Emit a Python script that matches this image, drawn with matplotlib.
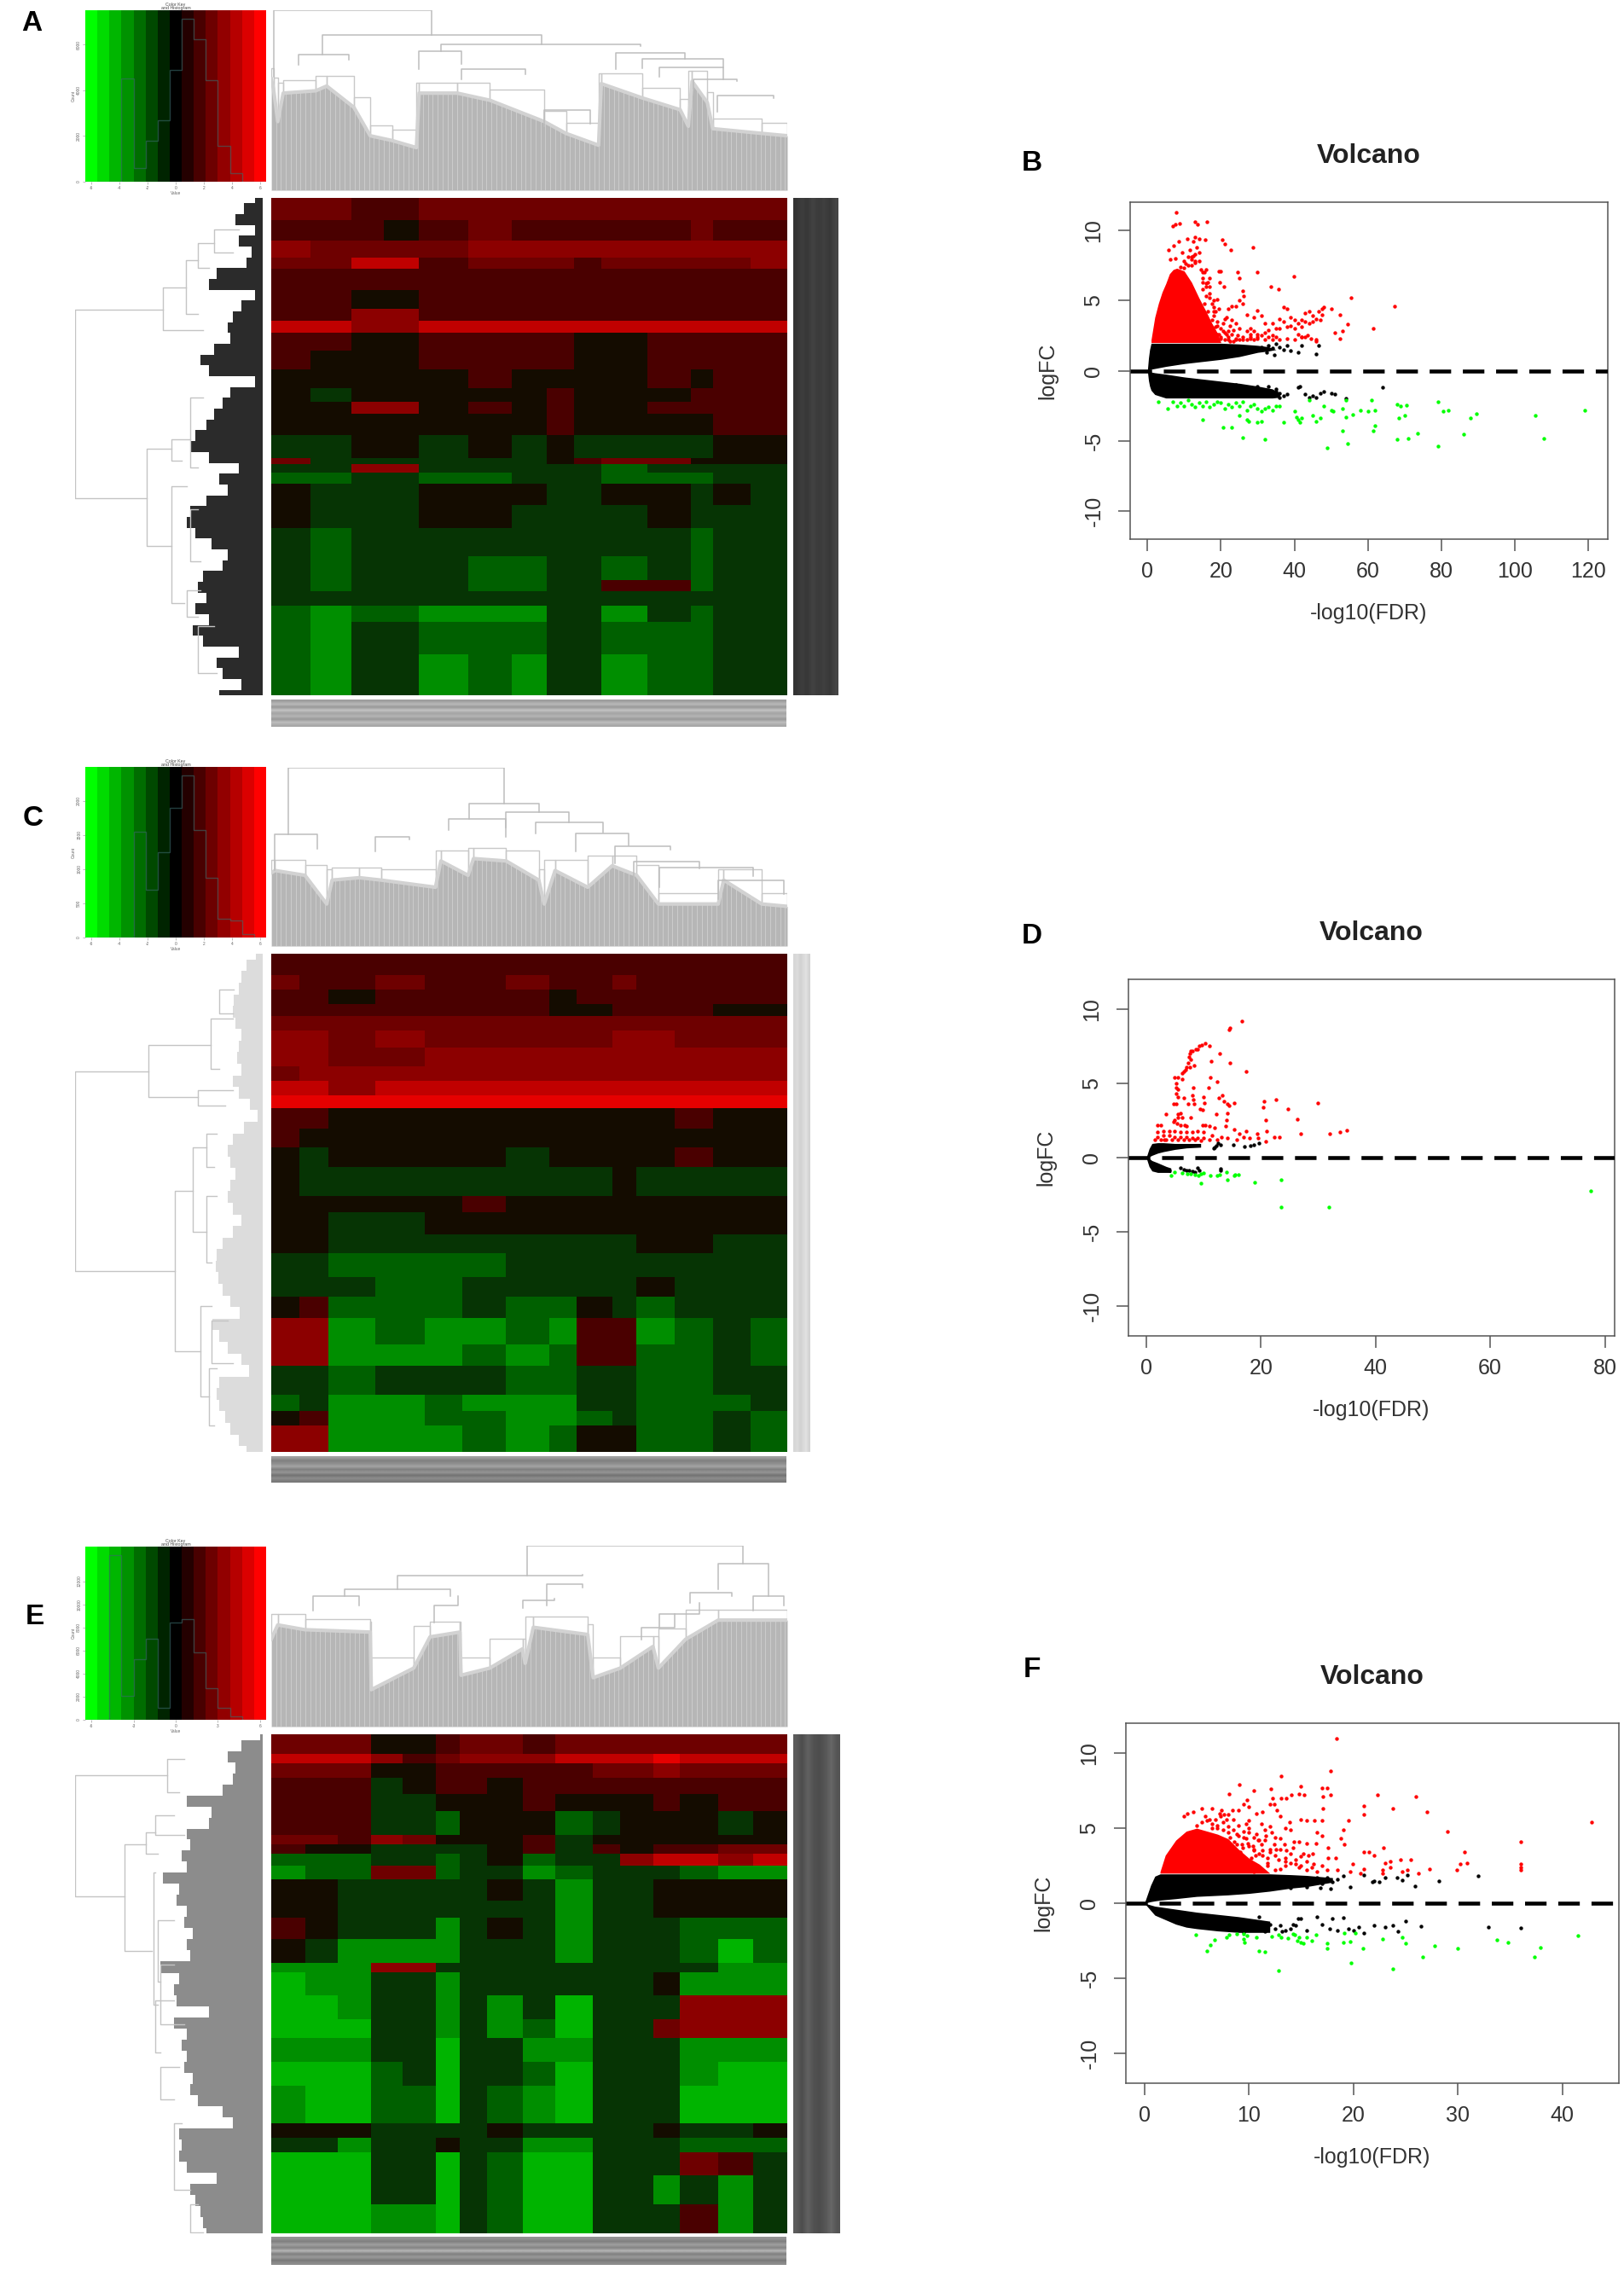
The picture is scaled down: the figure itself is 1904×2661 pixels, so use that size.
import numpy as np
import matplotlib
matplotlib.use("Agg")
import matplotlib.pyplot as plt
from matplotlib.colors import ListedColormap, LinearSegmentedColormap

plt.rcParams["font.family"] = ["Liberation Sans", "DejaVu Sans"]

W, H = 1904, 2661

# heat codes: 0 bright green ... 4 black ... 9 bright red
heat_colors = ["#00b400", "#008e00", "#006000", "#063404", "#140c00",
               "#4a0000", "#6e0000", "#8c0000", "#c00000", "#e60000"]
heat_cmap = ListedColormap(heat_colors)
key_cmap = LinearSegmentedColormap.from_list("key", ["#00ff00", "#000000", "#ff0000"], N=15)

# ---- panel A ----
a_cols = [498, 570, 645, 705, 770, 860, 940, 1005, 1055, 1105, 1190, 1270, 1310, 1380, 1447]
a_rows = [423, 470, 515, 550, 575, 620, 660, 685, 712, 750, 790, 830, 860, 885, 930, 980, 992,
          1010, 1035, 1080, 1130, 1190, 1240, 1265, 1295, 1330, 1400, 1487]
a_heat = ["66556666666666", "55545655555655", "76666777777777", "66885666566667",
          "55555555555555", "55445555555555", "55775555555555", "88778888888888",
          "55445555445555", "54445555445555", "44444544445455", "43444445444555",
          "44774545445555", "44444445444455", "33443434333344", "63333334566444",
          "33773333323333", "22332233322233", "43334443344343", "43334433334333",
          "32333333333233", "32333223323233", "32333223355233", "33333333333333",
          "21221113313233", "21332223322233", "21331213312233"]
a_hist = [0, 0, 0, .60, .08, .24, .36, .65, .95, .83, .59, .21, .05, 0, 0]
a_top_x = [498, 502, 510, 520, 580, 600, 650, 680, 720, 765, 770, 840, 900, 1000, 1040, 1100,
           1105, 1180, 1250, 1265, 1272, 1300, 1310, 1400, 1447]
a_top_y = [170, 190, 260, 200, 195, 185, 230, 290, 300, 315, 200, 200, 215, 260, 285, 310,
           180, 210, 235, 270, 175, 220, 275, 285, 290]
a_top_links = [(502, 793, 25, 165, 78), (592, 995, 78, 118, 97), (548, 640, 118, 140, 130),
               (810, 1177, 97, 112, 100), (770, 848, 112, 150, 138), (848, 965, 150, 170, 160),
               (1132, 1258, 115, 150, 127), (1180, 1330, 127, 148, 145), (1212, 1330, 145, 165, 170),
               (1275, 1355, 170, 190, 175), (1318, 1422, 205, 240, 210), (1000, 1085, 235, 270, 265)]
a_left_x = [470, 450, 435, 470, 440, 465, 455, 400, 385, 470, 445, 430, 420, 425, 395, 370, 385, 470, 425,
            410, 395, 380, 360, 350, 385, 440, 405, 420, 380, 350, 345, 360, 390, 420, 410, 375, 365, 380,
            360, 385, 355, 375, 440, 400, 410, 445, 405]
a_left_links = [(662, 1065, 137, 300, 270), (615, 705, 300, 343, 375), (557, 672, 343, 365, 365),
                (520, 572, 365, 395, 385), (490, 540, 395, 440, 430), (960, 1168, 270, 315, 315),
                (940, 985, 315, 350, 335), (850, 1000, 350, 375, 365), (1040, 1290, 315, 345, 340),
                (1262, 1320, 345, 370, 365), (1090, 1200, 350, 365, 370), (1340, 1440, 365, 395, 400)]

# ---- panel C ----
c_cols = [498, 550, 603, 690, 780, 850, 930, 1010, 1060, 1125, 1170, 1240, 1310, 1380, 1447]
c_rows = [425, 470, 500, 530, 555, 585, 620, 660, 690, 720, 748, 790, 830, 870, 930, 965, 1010,
          1050, 1100, 1140, 1185, 1240, 1285, 1345, 1380, 1410, 1465]
c_heat = ["55555555555555", "65565565565555", "55455554555555", "55555554455544",
          "66666666666666", "77676666677666", "77667777777777", "67777777777777",
          "88788888888888", "99999999999999", "55444444444544", "54444444444444",
          "43444434444544", "43333333343333", "44444544444444", "44334444444444",
          "44333333334433", "33222233333333", "33322333334333", "45222322432333",
          "77121121551232", "77111212552232", "33233322332233", "23112111332223",
          "45112211232232", "77111212442232"]
c_hist = [0, 0, 0, 0, .62, .28, .50, .76, .95, .63, .35, .11, .10, .02, 0]
c_top_x = [498, 505, 560, 600, 610, 660, 700, 800, 810, 860, 870, 930, 990, 1000, 1020, 1080,
           1125, 1170, 1210, 1320, 1330, 1400, 1447]
c_top_y = [255, 250, 260, 320, 270, 265, 270, 285, 230, 260, 225, 230, 270, 320, 250, 285,
           240, 260, 320, 320, 270, 320, 325]
c_top_links = [(530, 926, 35, 175, 110), (862, 990, 110, 142, 128), (824, 930, 142, 165, 160),
               (930, 1045, 128, 180, 150), (985, 1108, 150, 172, 170), (505, 582, 175, 250, 205),
               (690, 752, 180, 210, 185), (1058, 1155, 172, 210, 197), (1130, 1232, 200, 235, 207),
               (1165, 1285, 232, 265, 245), (1212, 1385, 243, 285, 262), (1320, 1440, 270, 310, 300)]
c_left_x = [472, 455, 445, 440, 432, 430, 435, 445, 440, 438, 445, 430, 440, 462, 475, 450, 430, 420,
            425, 435, 425, 420, 430, 445, 430, 410, 400, 398, 402, 410, 425, 442, 392, 405, 420, 445,
            460, 405, 400, 405, 415, 425, 440, 455]
c_left_links = [(670, 1087, 137, 273, 322), (615, 725, 273, 388, 365), (560, 665, 388, 430, 405),
                (710, 742, 365, 430, 415), (920, 1255, 322, 355, 370), (830, 1005, 355, 380, 380),
                (1160, 1350, 370, 390, 385), (800, 870, 380, 400, 395), (930, 1070, 380, 400, 390),
                (1290, 1410, 385, 400, 395), (1190, 1280, 390, 420, 430), (500, 550, 405, 432, 430)]

# ---- panel E ----
e_cols = [498, 560, 620, 682, 740, 800, 845, 895, 960, 1020, 1090, 1140, 1200, 1250, 1320, 1385, 1447]
e_rows = [438, 480, 500, 530, 565, 600, 650, 670, 690, 715, 745, 790, 825, 870, 920, 940, 990, 1040,
          1080, 1130, 1180, 1260, 1290, 1320, 1370, 1430, 1492]
e_heat = ["6664456656666666", "8887567778889888", "6664455555667666", "5553455455555555",
          "5553344454445455", "5553324442344434", "6657644453444444", "5443333453545566",
          "2223323423378878", "1226623312333211", "4433333431334444", "4433333331334444",
          "5433313431333222", "4311113331333202", "1117733333333311", "0113313333334111",
          "0013313130333777", "0003313120336777", "1113303311333111", "0002303320333100",
          "1002203210333000", "4443333433334334", "3313343311333222", "0003303200333653",
          "0003303200331313", "0001103200333513"]
e_hist = [0, 0, .95, .14, .35, .47, .07, .56, .58, .39, .18, .07, .02, 0, 0]
e_top_x = [498, 510, 560, 680, 682, 760, 790, 845, 847, 900, 960, 965, 980, 1080, 1090, 1140,
           1200, 1210, 1260, 1320, 1447]
e_top_y = [240, 210, 220, 225, 345, 300, 235, 225, 315, 300, 260, 290, 215, 230, 320, 300,
           255, 300, 240, 200, 200]
e_top_links = [(968, 1366, 45, 108, 83), (730, 1070, 108, 135, 105), (1320, 1412, 83, 135, 150),
               (633, 828, 135, 150, 150), (1268, 1345, 142, 165, 150), (1005, 1070, 125, 170, 132),
               (960, 1018, 158, 175, 155), (575, 660, 150, 180, 170), (798, 842, 170, 205, 150),
               (1178, 1240, 215, 240, 188), (1212, 1285, 188, 215, 165), (1385, 1440, 150, 180, 170)]
e_left_x = [480, 445, 420, 435, 430, 410, 345, 390, 385, 345, 350, 335, 345, 300, 330, 325, 345, 340, 355,
            345, 350, 295, 330, 320, 325, 385, 320, 345, 335, 345, 340, 355, 350, 365, 410, 430, 330, 335,
            330, 345, 400, 350, 360, 370, 375, 380]
e_left_links = [(525, 780, 137, 308, 228), (490, 560, 308, 340, 330), (670, 895, 228, 268, 280),
                (645, 690, 268, 285, 290), (730, 1010, 282, 285, 290), (830, 960, 290, 320, 295),
                (1000, 1110, 285, 320, 295), (1140, 1210, 295, 330, 320), (1260, 1400, 320, 335, 350),
                (610, 650, 285, 320, 340), (1430, 1490, 350, 365, 375), (925, 1050, 295, 320, 340)]

# label strip grey levels (blurred text blocks)
a_right = [.20, .24, .22, .26, .23, .25, .22, .27]
c_right = [.84, .86, .82, .85, .88, .83]
e_right = [.36, .30, .38, .32, .30, .34, .40, .33]
a_bottom = [.62, .72, .60, .76, .64, .70, .60, .74, .66]
c_bottom = [.62, .50, .56, .64, .50, .58, .45, .55, .48]
e_bottom = [.58, .50, .62, .52, .70, .50, .60, .48, .55]

# ---- volcano B ----
b_red_x = [7.9, 6.9, 7.6, 8.8, 12.9, 13.7, 16.3, 8.5, 7.2, 5.8, 7.5, 6.2, 10.9, 12.5, 13, 14, 15.8, 20.3, 21, 22.7,
           28.8, 30, 39.8, 20, 19.4, 24.6, 25, 19.6, 20.8, 33.5, 35.6, 26, 26.2, 55.5, 67.3, 52.3, 50, 48, 47.5, 54.5,
           61.5, 51, 52.5, 53, 46.5, 45, 44, 43, 42, 41, 40, 39, 38, 37, 36, 35, 34, 33, 32, 31, 30, 29, 28, 27,
           26, 25, 24, 23, 22, 21, 47, 46, 45, 44, 43, 42, 41, 40, 39, 38, 37, 36, 34, 33, 32, 31, 30, 29, 28, 27,
           25, 24, 23, 22, 21, 20, 47.5, 46, 44.5, 43.5, 42, 40, 38, 36, 35, 34, 32, 30, 28, 26, 24, 22, 20, 19, 18,
           43, 42, 46, 17, 18, 16, 17, 18, 19, 15, 16, 14, 15, 13, 14, 12, 11, 10, 13, 15, 17, 19, 12, 16, 18, 14,
           9, 10, 11, 12, 13, 11.5, 9.5, 10.5, 12.5, 13.5, 14.5, 15.5, 16.5, 17.5, 18.5, 19.5, 20.5, 21.5, 22.5, 23.5, 24.5,
           15, 16, 17, 18, 19, 20, 21, 22, 23, 24, 25, 26, 27, 28, 29, 30, 15.5, 16.5, 17.5, 18.5, 19.5, 20.5, 21.5, 22.5, 23.5]
b_red_y = [11.3, 10.3, 10.4, 10.5, 10.6, 10.4, 10.6, 9.2, 8.9, 8.6, 8.0, 7.9, 9.4, 9.2, 9.5, 9.4, 9.3, 9.3, 9.0, 8.6,
           8.8, 7.0, 6.7, 7.1, 7.1, 7.0, 6.6, 6.3, 6.0, 6.0, 5.8, 5.7, 5.3, 5.2, 4.6, 4.0, 4.4, 4.5, 4.0, 3.3,
           3.0, 2.7, 2.3, 2.8, 4.2, 3.9, 4.2, 4.1, 3.6, 3.4, 3.6, 3.8, 4.4, 4.5, 3.7, 3.0, 3.4, 2.9, 3.4, 3.9, 4.3, 3.8, 3.0, 4.0,
           4.8, 5.0, 4.6, 4.6, 4.4, 3.7, 3.6, 3.7, 3.5, 3.4, 3.5, 3.1, 2.6, 3.0, 3.2, 3.1, 3.5, 3.0, 2.5, 2.4, 2.7, 2.5, 2.6, 2.8, 2.3, 2.8,
           3.0, 3.4, 3.6, 2.8, 2.7, 3.0, 4.4, 2.2, 2.3, 2.5, 2.4, 2.2, 2.3, 2.2, 2.4, 2.2, 2.2, 2.3, 2.4, 2.2, 2.3, 2.2, 2.3, 2.6, 2.8,
           2.4, 2.4, 2.1, 6.0, 5.0, 7.2, 6.6, 4.5, 3.5, 6.3, 5.3, 7.8, 7.0, 8.3, 8.4, 7.9, 7.5, 7.3, 7.7, 5.8, 5.5, 5.1, 8.1, 6.0, 3.9, 4.6,
           7.4, 7.8, 8.1, 7.5, 7.8, 8.6, 8.4, 7.6, 8.2, 8.8, 7.2, 7.0, 6.3, 4.8, 4.2, 4.4, 3.4, 3.8, 3.2, 2.9, 2.5,
           6.6, 6.2, 5.2, 4.2, 3.2, 2.4, 2.2, 2.4, 2.6, 2.2, 2.2, 2.4, 2.2, 2.6, 2.2, 2.4, 4.8, 4.2, 3.6, 3.1, 2.6, 2.8, 2.6, 2.1, 2.1]
b_dense_x = [1, 2, 3, 4, 5, 6, 7, 8, 10, 12, 14, 16, 17.5, 19, 20]
b_dense_top = [2.2, 3.8, 4.8, 5.6, 6.2, 6.9, 7.2, 7.3, 7.1, 6.3, 5.2, 4.2, 3.4, 2.7, 2.0]
b_up_x = [0, .3, .6, 1, 5, 10, 15, 20, 25, 30, 33, 35]
b_up_hi = [0, .9, 1.5, 1.95, 1.95, 1.95, 1.95, 1.95, 1.9, 1.8, 1.7, 1.5]
b_up_lo = [0, .05, .08, .1, .3, .5, .65, .8, 1.0, 1.3, 1.4, 1.5]
b_lo_x = [0, .3, .6, 1, 2, 5, 10, 15, 20, 25, 30, 34, 36]
b_lo_hi = [0, -.05, -.08, -.1, -.15, -.25, -.45, -.6, -.75, -.9, -1.1, -1.3, -1.6]
b_lo_lo = [0, -.7, -1.1, -1.4, -1.7, -1.95, -1.95, -1.95, -1.95, -1.95, -1.95, -1.95, -1.9]
b_black_x = [31, 33, 34, 35, 36, 37, 38, 39, 41, 42, 46.5, 46, 35, 36, 32, 34, 37, 30, 28, 26, 24, 27, 29, 31, 33,
             35, 36, 38, 41, 41.5, 43, 44, 45, 46, 48, 51, 54, 64, 47, 50, 32.5, 34.5]
b_black_y = [1.7, 1.8, 1.6, 1.9, 1.7, 1.5, 1.8, 1.4, 1.3, 1.8, 1.8, 1.2, -1.3, -1.6, -1.5, -1.7, -1.8, -1.1, -1.6, -1.2, -1.0,
             -1.4, -1.5, -1.4, -1.1, -1.5, -1.9, -1.7, -1.2, -1.1, -1.7, -1.9, -1.8, -1.9, -1.5, -1.7, -2.0, -1.2, -1.6, -1.6, 1.3, 1.1]
b_green_x = [3, 5.5, 7, 8, 9, 10, 11, 12, 13, 14, 15, 16, 17, 18, 19, 20, 21, 22, 23, 24, 25, 26, 27, 28, 29, 30, 31, 32, 33, 34, 35,
             15, 20.5, 23, 26, 32, 25, 27, 27.5, 30, 31, 36, 37, 40, 40.5, 41, 41.5, 42, 44, 45, 46, 47, 48, 50, 50.5, 53, 54, 54.5, 54,
             53.2, 49, 56, 58, 60, 61, 62, 61.5, 62, 68, 69, 70, 70.5, 68.5, 68, 71, 73.5, 79, 79, 80.5, 82, 86, 88, 89.5, 105.5, 108, 119]
b_green_y = [-2.2, -2.7, -2.2, -2.5, -2.3, -2.5, -2.1, -2.4, -2.6, -2.3, -2.5, -2.2, -2.6, -2.4, -2.2, -2.3, -2.7, -2.4, -2.6, -2.3, -2.5, -2.2,
             -2.8, -2.5, -2.4, -2.7, -2.9, -2.7, -2.6, -2.8, -2.5, -3.5, -4.05, -4.05, -4.75, -4.9, -3.2, -3.5, -3.6, -3.65, -3.6, -2.5, -3.7,
             -2.9, -3.3, -3.5, -3.7, -3.4, -2.1, -3.2, -3.6, -3.4, -2.5, -2.8, -2.9, -4.3, -3.3, -5.2, -2.1, -2.7, -5.5, -3.1, -2.8, -2.9, -2.1, -2.85,
             -4.3, -3.9, -2.4, -2.5, -3.2, -2.45, -3.4, -4.9, -4.85, -4.45, -5.4, -2.2, -2.9, -2.85, -4.5, -3.35, -3.05, -3.2, -4.8, -2.8]

# ---- volcano D ----
d_red_x = [16.7, 14.6, 14.4, 9.7, 10.3, 11, 9.2, 9, 8.6, 8.1, 7.8, 7.6, 7.5, 7.8, 7.3, 7.6, 8.3, 7, 6.9, 6.6, 6.3, 11.4, 12.8, 14.6, 17.4,
           5, 5.5, 6.3, 11.2, 12.4, 5.3, 5.2, 5.5, 10.9, 8.2, 5.2, 5.6, 6.6, 8.1, 10, 12.6, 13.3, 8.2, 7.3, 4.8, 5.2, 8.4, 10.1, 13.5, 14.2, 15.4,
           14.5, 20.5, 22.7, 20.4, 29.9, 24.7, 9.4, 9.9, 6, 5.5, 3.5, 12.2, 14.1, 5.5, 6.2, 7.7, 26.3, 20.9, 14, 5, 4.8, 5.4, 6, 6.7, 7, 2, 2.6,
           9.8, 10.3, 11, 12, 13.8, 15.3, 17.5, 16.2, 19.4, 21, 26.9, 32, 33.8, 35, 22.3, 23.2, 19.5, 20.9, 18, 17, 15.8, 14.2, 13.1, 12.3, 11.1,
           10, 9, 8, 7, 6, 5, 4, 3, 2, 1.5, 2.5, 3.5, 4.5, 5.5, 6.5, 7.5, 8.5, 9.5, 2, 3, 4, 5, 6, 7, 8, 9, 10, 11.5, 3.2]
d_red_y = [9.2, 8.7, 8.6, 7.6, 7.7, 7.5, 7.5, 7.3, 7.3, 7.2, 7.2, 7, 6.8, 6.6, 6.4, 6.1, 6.2, 6.1, 5.9, 5.8, 5.7, 6.5, 7, 6.4, 5.8,
           5.4, 5.4, 5.3, 5.4, 5.1, 5, 4.7, 4.6, 4.7, 4.7, 4.3, 4.1, 4, 4.2, 4.1, 4, 4.2, 3.9, 3.6, 3.6, 3.6, 3.6, 3.7, 3.8, 3.6, 3.7,
           3.5, 3.8, 3.9, 3.4, 3.7, 3.3, 3.3, 3.2, 3, 2.9, 2.9, 2.9, 3, 2.7, 2.7, 2.7, 2.6, 2.5, 2.5, 2.5, 2.4, 2.3, 2.2, 2.2, 2.1, 2.2, 2.2,
           2.2, 2.2, 2.1, 2, 2.1, 1.9, 1.8, 1.6, 1.6, 1.8, 1.6, 1.6, 1.75, 1.85, 1.4, 1.4, 1.3, 1.1, 1.3, 1.35, 1.2, 1.3, 1.4, 1.2, 1.2,
           1.3, 1.3, 1.3, 1.4, 1.4, 1.4, 1.5, 1.5, 1.4, 1.2, 1.2, 1.2, 1.2, 1.2, 1.2, 1.2, 1.2, 1.15, 1.7, 1.8, 1.8, 1.8, 1.7, 1.7, 1.7, 1.8, 1.7, 1.5, 1.2]
d_up_x = [0, .5, 1, 2, 3, 5, 7, 9.5]
d_up_hi = [0, .6, .95, 1, 1, .95, .95, .95]
d_up_lo = [0, .05, .15, .3, .4, .55, .65, .7]
d_lo_x = [0, .5, 1, 2, 3.5, 4.3]
d_lo_hi = [0, -.05, -.2, -.35, -.6, -.7]
d_lo_lo = [0, -.6, -.9, -1, -1, -1]
d_black_x = [12, 11.8, 12.5, 13, 15.2, 17.2, 18.2, 18.8, 19.7, 12.2, 6, 6.5, 7, 7.5, 8, 9, 9.2, 12.9, 13, 8.5, 4]
d_black_y = [.7, .65, .95, .85, .85, .75, .8, .85, .95, .8, -.7, -.8, -.85, -.85, -.9, -.7, -.85, -.85, -.75, -.95, -.85]
d_green_x = [4.3, 5, 6.2, 7.2, 7.8, 8.5, 9.1, 9.5, 10, 11.2, 12.3, 12.8, 14, 15.5, 16.1, 14.2, 9.5, 18.9, 23.6, 23.6, 31.9, 77.5, 15.3]
d_green_y = [-1.2, -1, -1.05, -1.1, -1.1, -1.15, -1.2, -1.1, -1.05, -1.2, -1.2, -1.15, -1, -1.15, -1.15, -1.5, -1.7, -1.65, -1.5, -3.35, -3.35, -2.25, -1.2]

# ---- volcano F ----
f_red_x = [18.4, 17.8, 13.1, 9.1, 15, 17, 17.5, 8.1, 10.5, 12.1, 14.8, 15.3, 12.3, 13.1, 13.6, 14.1, 17.1, 17.8, 22.3, 26, 9.8, 9.5, 10, 12, 12.4,
           17.1, 23.8, 27, 21, 21, 4.1, 4.7, 5.5, 6.5, 7.4, 8.4, 7.2, 7.6, 8, 9, 10.7, 11.3, 12.7, 13, 5.8, 3.8, 15, 15.5, 16.3, 17, 19.5, 42.8,
           13.9, 9.7, 10, 11.2, 12, 13.5, 14, 11.5, 16.5, 19, 29, 17, 18.8, 19.1, 36, 14.3, 15.5, 16.4, 14.8, 13, 12.5, 11.6, 10.7, 17.6, 22.9, 15.7,
           16.1, 17.6, 18.3, 21, 21.5, 22, 30.6, 23, 23.5, 24.5, 25.5, 23.5, 22.8, 19.9, 15.2, 14.5, 13.5, 12.8, 11.8, 11.3, 10.5, 30.2, 30.9, 36,
           36, 36, 29.9, 27.3, 26.2, 25.2, 24.7, 22.8, 21, 20.7, 19.7, 18.5, 17.5, 16.5, 15.5, 15, 13.5, 12.5, 11, 10.5, 14, 16.2, 17,
           6.5, 7, 7.5, 8, 8.5, 9, 9.5, 10, 10.5, 11, 8.2, 8.8, 9.3, 9.9, 10.4, 11.3, 12, 6.2, 6.8, 7.3, 7.9, 8.4, 9.2, 10.2, 11.8, 12.6,
           5, 5.5, 6, 6.5, 7, 7.5, 8, 8.5, 9, 9.5, 10, 10.5, 11, 11.5, 12, 12.5, 13, 13.5, 14, 14.5, 15, 15.5, 16,
           7.2, 7.8, 8.3, 8.8, 9.4, 10, 10.6, 11.2, 11.8, 12.4, 13, 13.6, 14.2, 14.8, 8.6, 9.7, 10.9, 12.2, 13.4]
f_red_y = [11, 8.8, 8.5, 7.9, 7.8, 7.7, 7.7, 7.3, 7.5, 7.6, 7.3, 7.2, 7, 7, 7, 7.2, 7.1, 7.2, 7.2, 7.1, 6.9, 6.6, 6.4, 6.6, 6.6,
           6.3, 6.3, 6.1, 6.5, 5.9, 6, 6.1, 6.3, 6.3, 6.2, 6.2, 6, 5.9, 5.9, 6.2, 6, 6.1, 6.2, 5.8, 5.8, 5.8, 5.6, 5.5, 5.5, 5.5, 5.5, 5.4,
           5.4, 5.3, 5.5, 5.3, 5.1, 5, 4.9, 4.9, 4.7, 4.9, 4.8, 4.5, 4.3, 3.9, 4.1, 4.1, 4, 4, 4.1, 4.3, 4.4, 4.5, 4.6, 3.7, 3.7, 3.2,
           3.3, 3, 3, 3.4, 3.4, 3.2, 3.4, 2.7, 2.8, 2.9, 2.9, 2.4, 2.2, 2.6, 3.3, 2.9, 3, 2.9, 3, 3.5, 3.5, 2.6, 2.7, 2.6,
           2.4, 2.2, 2.2, 2.3, 2, 2.2, 2.1, 2, 2.3, 2, 2.1, 2.2, 2.2, 2.1, 2.2, 2.5, 2.5, 2.2, 2.4, 2.1, 2.7, 2.6, 2.5,
           5.3, 5.0, 5.4, 5.1, 5.6, 5.2, 4.8, 5.0, 4.4, 4.2, 4.4, 4.6, 3.9, 4.0, 3.8, 3.2, 3.6, 5.6, 5.6, 5.8, 5.6, 3.4, 3.4, 3.0, 2.7, 3.6,
           5.2, 5.4, 5.5, 5.0, 5.2, 4.9, 4.7, 4.9, 4.5, 4.4, 3.8, 3.6, 3.3, 4.2, 3.4, 3.2, 3.6, 2.8, 3.3, 2.6, 3.1, 2.8, 2.4,
           3.9, 3.7, 3.5, 3.9, 3.7, 4.7, 3.2, 3.9, 2.5, 3.9, 2.3, 3.5, 3.7, 2.4, 4.1, 4.3, 4.2, 4.7, 3.9]
f_dense_x = [1.5, 2, 2.5, 3, 3.5, 4, 5, 6, 7, 8, 9, 10, 11, 12]
f_dense_top = [2.1, 3.2, 3.7, 4.2, 4.5, 4.8, 5, 4.8, 4.6, 4.3, 3.6, 3, 2.6, 2.0]
f_up_x = [0, .3, .6, 1, 1.5, 3, 5, 8, 10, 12, 14, 15.5, 18]
f_up_hi = [0, .6, 1.2, 1.8, 1.95, 1.95, 1.95, 1.95, 1.95, 1.95, 1.9, 1.85, 1.7]
f_up_lo = [0, .05, .1, .15, .2, .3, .45, .55, .65, .8, 1.0, 1.1, 1.4]
f_lo_x = [0, .5, 1, 2, 3, 4, 5, 7, 9, 10.5, 12]
f_lo_hi = [0, -.1, -.2, -.3, -.4, -.5, -.6, -.75, -.9, -1.05, -1.2]
f_lo_lo = [0, -.4, -.8, -1.1, -1.4, -1.6, -1.7, -1.85, -1.95, -1.95, -1.95]
f_black_x = [16, 16.5, 17, 17.5, 18, 18.5, 19, 19.7, 21, 21.8, 22, 22.5, 23, 24.2, 24.7, 25.2, 25.9, 28.2, 31.9, 15.5, 14, 13, 12, 16.8, 17.8,
             10.5, 11, 11.5, 12, 12.5, 13, 13.5, 14, 14.5, 15, 15.5, 16.5, 17, 17.7, 18, 18.5, 19, 19.5, 20, 20.5, 21, 22, 23, 23.8, 24.3, 25,
             26.5, 32.9, 36, 14.2, 14.7, 13.2, 11.5, 10.8, 9.5]
f_black_y = [1.5, 1.7, 1.3, 1.7, 1.4, 1.6, 1.8, 1.1, 1.9, 1.4, 1.5, 1.4, 1.7, 1.7, 1.55, 1.9, 1.15, 1.5, 1.8, 1.1, 1.0, 1.2, 1.3, 1.0, .95,
             -1.2, -.9, -1.5, -1.4, -1.7, -1.5, -1.8, -1.7, -1.5, -1, -1.8, -.9, -1.4, -1.7, -1, -1.8, -.95, -1.7, -1.8, -1.6, -2, -1.5, -1.6, -1.5, -1.9, -1.2,
             -1.55, -1.6, -1.65, -1.4, -1, -1.9, -1.9, -1.7, -1.95]
f_green_x = [4.9, 6, 6.3, 6.7, 7.9, 8.1, 8.8, 9.5, 9.6, 9.5, 10.7, 11, 11.5, 12.2, 12.8, 13.1, 13.7, 14.4, 14.6, 14.8, 15, 15.5, 16, 16.4, 17.5, 17.5,
             19, 19.1, 19.7, 20.2, 12.8, 19.8, 20.9, 22.8, 23.8, 24.7, 25, 26.6, 27.8, 30, 33.7, 34.8, 37.3, 37.9, 41.5, 15.2, 14.2, 9.8]
f_green_y = [-2.1, -3.2, -2.8, -2.45, -2.3, -2.1, -2.05, -2.4, -2.6, -2.05, -2.25, -3.2, -3.25, -2.2, -4.5, -2.25, -2.35, -2.1, -2.5, -2.3, -2.6, -2.3, -2.5, -2.1,
             -2.7, -3.0, -2.6, -2, -2.55, -2, -2.1, -4, -3, -2.4, -4.4, -2.25, -2.7, -3.6, -2.85, -3, -2.45, -2.6, -3.6, -2.95, -2.15, -2.7, -2.05, -2.15]

x_ticks_b = [0, 20, 40, 60, 80, 100, 120]
x_ticks_d = [0, 20, 40, 60, 80]
x_ticks_f = [0, 10, 20, 30, 40]
y_ticks = [-10, -5, 0, 5, 10]


def px_axes(x0, x1, y0, y1):
    return fig.add_axes([x0 / W, 1 - y1 / H, (x1 - x0) / W, (y1 - y0) / H])


def bare(ax):
    ax.set_xticks([])
    ax.set_yticks([])
    for s in ax.spines.values():
        s.set_visible(False)


def draw_key(box, hist, xlabels, ylabels):
    ax = px_axes(*box)
    ax.pcolormesh(np.arange(16), [0, 1], np.arange(15).reshape(1, -1), cmap=key_cmap)
    ax.stairs(hist, np.arange(16), color="#3a6a6a", lw=1.0, alpha=0.6)
    ax.set_xlim(0, 15)
    ax.set_ylim(0, 1)
    ax.set_xticks(np.linspace(.5, 14.5, len(xlabels)))
    ax.set_xticklabels(xlabels, fontsize=3.5, color="#666666")
    ax.set_yticks(np.linspace(0, .8, len(ylabels)))
    ax.set_yticklabels(ylabels, fontsize=3.5, color="#666666", rotation=90, va="center")
    ax.tick_params(length=2, width=0.4, color="#888888", pad=1.5)
    ax.set_xlabel("Value", fontsize=3.5, color="#666666", labelpad=1)
    ax.set_ylabel("Count", fontsize=3.5, color="#666666", labelpad=1)
    for s in ax.spines.values():
        s.set_visible(False)
    ax.text(.5, 1.022, "Color Key", transform=ax.transAxes, ha="center", va="bottom", fontsize=3.8, color="#444444")
    ax.text(.5, 1.002, "and Histogram", transform=ax.transAxes, ha="center", va="bottom", fontsize=3.8, color="#444444")


def draw_top(box, ylim, xs, ys, links):
    ax = px_axes(*box)
    ax.fill_between(xs, ys, ylim[0], color="#b6b6b6", lw=0)
    ax.vlines(np.arange(498, 1447, 9), ylim[1], ylim[0], color="white", lw=0.7, alpha=0.3)
    for i in range(len(xs) - 1):
        # small merges sitting on the bar tops
        tp = min(ys[i], ys[i + 1]) - 22
        ax.plot([xs[i], xs[i], xs[i + 1], xs[i + 1]], [ys[i], tp, tp, ys[i + 1]], color="#c8c8c8", lw=1.0)
    ax.plot(xs, ys, color="#d2d2d2", lw=3.0)
    for x1, x2, top, b1, b2 in links:
        ax.plot([x1, x1, x2, x2], [b1, top, top, b2], color="#bdbdbd", lw=1.1)
    ax.set_xlim(498, 1447)
    ax.set_ylim(*ylim)
    bare(ax)


def draw_left(box, ylim, xs, links, color):
    ax = px_axes(*box)
    ys = np.linspace(ylim[1], ylim[0], len(xs))
    ax.fill_betweenx(ys, xs, 485, color=color, lw=0, step="mid")
    for y1, y2, left, r1, r2 in links:
        ax.plot([r1, left, left, r2], [y1, y1, y2, y2], color="#c4c4c4", lw=1.0)
    ax.set_xlim(137, 485)
    ax.set_ylim(*ylim)
    bare(ax)


def draw_heat(box, cols, rows, grid):
    ax = px_axes(*box)
    values = np.array([[int(c) for c in r] for r in grid])
    ax.pcolormesh(cols, rows, values, cmap=heat_cmap, vmin=-.5, vmax=9.5)
    ax.set_xlim(cols[0], cols[-1])
    ax.set_ylim(rows[-1], rows[0])
    bare(ax)


def draw_strip(box, grey, vertical):
    ax = px_axes(*box)
    vals = np.array(grey).reshape(1, -1) if vertical else np.array(grey).reshape(-1, 1)
    ax.imshow(vals, cmap="gray", vmin=0, vmax=1, aspect="auto", interpolation="bilinear")
    bare(ax)


def draw_volcano(box, xlim, xticks, red, dense, up, lo, black, green):
    ax = px_axes(*box)
    if dense is not None:
        ax.fill_between(dense[0], 2.0, dense[1], color="#ff0000", lw=0, zorder=2)
    ax.fill_between(up[0], up[2], up[1], color="black", lw=0, zorder=2)
    ax.fill_between(lo[0], lo[1], lo[2], color="black", lw=0, zorder=2)
    ax.scatter(red[0], red[1], s=10, color="#ff0000", lw=0, zorder=3)
    ax.scatter(black[0], black[1], s=10, color="black", lw=0, zorder=3)
    ax.scatter(green[0], green[1], s=10, color="#00ff00", lw=0, zorder=3)
    ax.axhline(0, color="black", lw=3.3, dashes=(5.5, 3), zorder=4)
    ax.set_xlim(*xlim)
    ax.set_ylim(-12, 12)
    ax.set_xticks(xticks)
    ax.set_yticks(y_ticks)
    ax.set_yticklabels([str(v) for v in y_ticks], rotation=90, va="center")
    ax.tick_params(length=10, width=1.1, color="#555555", labelcolor="#333333", labelsize=18, pad=9)
    ax.tick_params(axis="y", pad=12)
    ax.set_xlabel("-log10(FDR)", fontsize=18, color="#333333", labelpad=18)
    ax.set_ylabel("logFC", fontsize=18, color="#333333", labelpad=22)
    ax.set_title("Volcano", fontsize=23, fontweight="bold", color="#222222", pad=33)
    for s in ax.spines.values():
        s.set_color("#555555")
        s.set_linewidth(1.1)


fig = plt.figure(figsize=(W / 100, H / 100), dpi=100)

# panel A
draw_key((100, 312, 12, 213), a_hist, ["-6", "-4", "-2", "0", "2", "4", "6"], ["0", "2000", "4000", "6000"])
draw_top((318, 923, 12, 223), (405, 25), a_top_x, a_top_y, a_top_links)
draw_left((88, 308, 232, 815), (1487, 423), a_left_x, a_left_links, "#2b2b2b")
draw_heat((318, 923, 232, 815), a_cols, a_rows, a_heat)
draw_strip((930, 983, 232, 815), a_right, True)
draw_strip((318, 922, 820, 852), a_bottom, False)

# panel C
draw_key((100, 312, 899, 1099), c_hist, ["-6", "-4", "-2", "0", "2", "4", "6"], ["0", "500", "1000", "1500", "2000"])
draw_top((318, 923, 900, 1109), (408, 35), c_top_x, c_top_y, c_top_links)
draw_left((88, 308, 1118, 1702), (1465, 425), c_left_x, c_left_links, "#dcdcdc")
draw_heat((318, 923, 1118, 1702), c_cols, c_rows, c_heat)
draw_strip((930, 950, 1118, 1702), c_right, True)
draw_strip((318, 922, 1707, 1738), c_bottom, False)

# panel E
draw_key((100, 312, 1813, 2016), e_hist, ["-6", "-3", "0", "3", "6"], ["0", "2000", "4000", "6000", "8000", "10000", "12000"])
draw_top((318, 923, 1812, 2024), (422, 45), e_top_x, e_top_y, e_top_links)
draw_left((88, 308, 2033, 2618), (1492, 438), e_left_x, e_left_links, "#8c8c8c")
draw_heat((318, 923, 2033, 2618), e_cols, e_rows, e_heat)
draw_strip((930, 985, 2033, 2618), e_right, True)
draw_strip((318, 922, 2622, 2655), e_bottom, False)

# volcano panels
draw_volcano((1325, 1885, 237, 632), (-4.7, 125.3), x_ticks_b, (b_red_x, b_red_y), (b_dense_x, b_dense_top),
             (b_up_x, b_up_hi, b_up_lo), (b_lo_x, b_lo_hi, b_lo_lo), (b_black_x, b_black_y), (b_green_x, b_green_y))
draw_volcano((1323, 1893, 1148, 1566), (-3.1, 81.7), x_ticks_d, (d_red_x, d_red_y), None,
             (d_up_x, d_up_hi, d_up_lo), (d_lo_x, d_lo_hi, d_lo_lo), (d_black_x, d_black_y), (d_green_x, d_green_y))
draw_volcano((1320, 1898, 2020, 2442), (-1.77, 45.4), x_ticks_f, (f_red_x, f_red_y), (f_dense_x, f_dense_top),
             (f_up_x, f_up_hi, f_up_lo), (f_lo_x, f_lo_hi, f_lo_lo), (f_black_x, f_black_y), (f_green_x, f_green_y))

letters = ["A", "B", "C", "D", "E", "F"]
letter_x = [37, 1210, 39, 1210, 41, 1210]
letter_y = [28, 192, 960, 1097, 1896, 1957]
for t, x, y in zip(letters, letter_x, letter_y):
    fig.text(x / W, 1 - y / H, t, fontsize=24, fontweight="bold", ha="center", va="center")

fig.savefig("out.png", dpi=100)
